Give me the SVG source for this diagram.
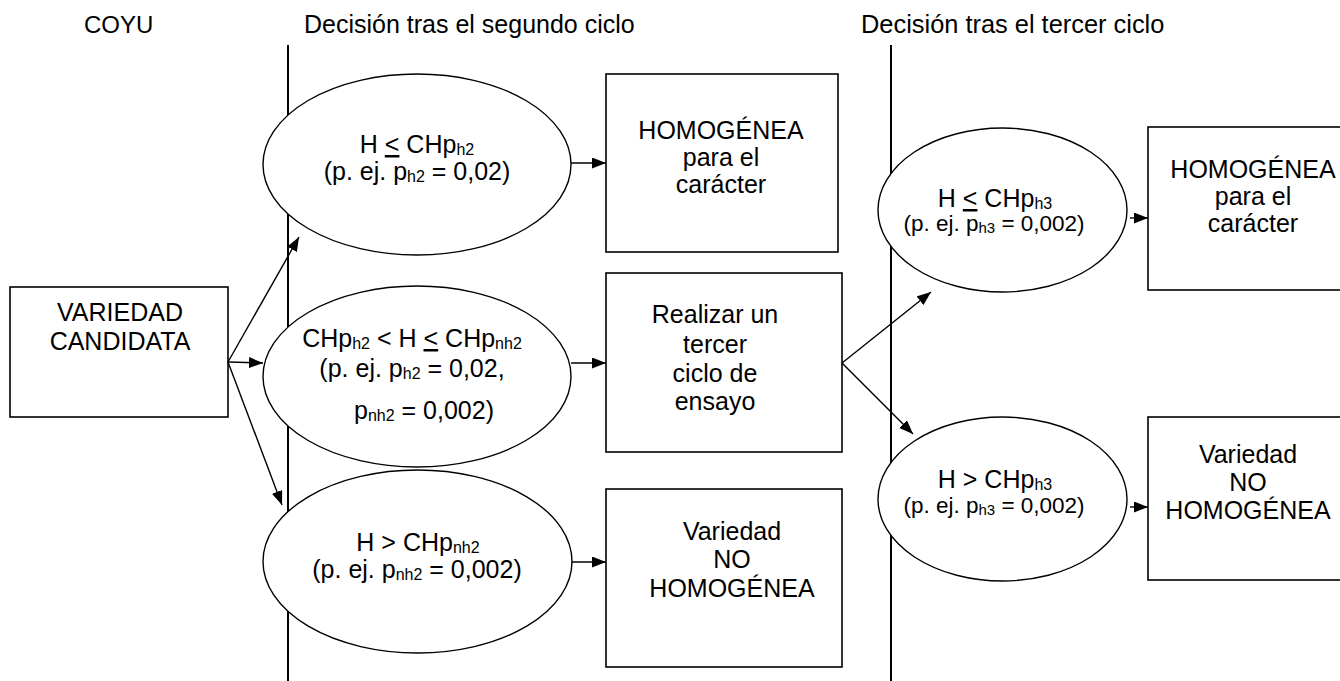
<svg xmlns="http://www.w3.org/2000/svg" width="1340" height="681" viewBox="0 0 1340 681">
<style>
  text { font-family: "Liberation Sans", Arial, sans-serif; fill: #000; }
  .t { font-size: 25px; text-anchor: middle; }
  .s { font-size: 22.5px; text-anchor: middle; }
  .h { font-size: 25px; text-anchor: start; }
  .sub { font-size: 16px; }
  .subs { font-size: 15px; }
  .u { text-decoration: underline; }
  .box { fill: #fff; stroke: #000; stroke-width: 1.6; }
  .ell { fill: #fff; stroke: #000; stroke-width: 1.4; }
  .div { stroke: #000; stroke-width: 2; fill: none; }
  .con { stroke: #000; stroke-width: 1.4; fill: none; marker-end: url(#ah); }
</style>
<defs>
  <marker id="ah" markerUnits="userSpaceOnUse" markerWidth="15" markerHeight="12" refX="14" refY="5.5" orient="auto">
    <path d="M0,0 L14,5.5 L0,11 z" fill="#000"/>
  </marker>
</defs>
<rect width="1340" height="681" fill="#fff"/>

<g id="headers">
  <text class="h" x="84" y="33" style="font-size:24px">COYU</text>
  <text class="h" x="304" y="33">Decisión tras el segundo ciclo</text>
  <text class="h" x="861" y="33" style="font-size:25.4px">Decisión tras el tercer ciclo</text>
</g>

<g id="dividers">
  <line class="div" x1="288" y1="45" x2="288" y2="681"/>
  <line class="div" x1="891" y1="45" x2="891" y2="681"/>
</g>

<g id="candidata">
  <rect class="box" x="10" y="287" width="218" height="130"/>
  <text class="t" x="120" y="321">VARIEDAD</text>
  <text class="t" x="120" y="350">CANDIDATA</text>
</g>

<g id="e-h2">
  <ellipse class="ell" cx="417" cy="164.5" rx="154" ry="90.5"/>
  <text class="t" x="417" y="153">H <tspan class="u">&lt;</tspan> CHp<tspan class="sub" dy="2">h2</tspan></text>
  <text class="t" x="417" y="180">(p. ej. p<tspan class="sub" dy="2">h2</tspan><tspan dy="-2"> = 0,02)</tspan></text>
</g>

<g id="e-mid2">
  <ellipse class="ell" cx="417" cy="376.5" rx="154" ry="90.5"/>
  <text class="t" x="412" y="347">CHp<tspan class="sub" dy="2">h2</tspan><tspan dy="-2"> &lt; H </tspan><tspan class="u">&lt;</tspan> CHp<tspan class="sub" dy="2">nh2</tspan></text>
  <text class="t" x="412" y="377">(p. ej. p<tspan class="sub" dy="2">h2</tspan><tspan dy="-2"> = 0,02,</tspan></text>
  <text class="t" x="424" y="419">p<tspan class="sub" dy="2">nh2</tspan><tspan dy="-2"> = 0,002)</tspan></text>
</g>

<g id="e-nh2">
  <ellipse class="ell" cx="417.5" cy="561.5" rx="154.5" ry="91.5"/>
  <text class="t" x="418" y="551">H &gt; CHp<tspan class="sub" dy="2">nh2</tspan></text>
  <text class="t" x="417" y="578">(p. ej. p<tspan class="sub" dy="2">nh2</tspan><tspan dy="-2"> = 0,002)</tspan></text>
</g>

<g id="b-hom2">
  <rect class="box" x="606" y="74" width="232" height="178"/>
  <text class="t" x="721" y="139">HOMOGÉNEA</text>
  <text class="t" x="721" y="166">para el</text>
  <text class="t" x="721" y="193">carácter</text>
</g>

<g id="b-tercer">
  <rect class="box" x="606" y="273" width="236" height="179"/>
  <text class="t" x="715" y="323">Realizar un</text>
  <text class="t" x="715" y="353">tercer</text>
  <text class="t" x="715" y="382">ciclo de</text>
  <text class="t" x="715" y="410">ensayo</text>
</g>

<g id="b-nohom2">
  <rect class="box" x="606" y="489" width="236" height="178"/>
  <text class="t" x="732" y="540">Variedad</text>
  <text class="t" x="732" y="568">NO</text>
  <text class="t" x="732" y="597">HOMOGÉNEA</text>
</g>

<g id="e-h3">
  <ellipse class="ell" cx="1002.5" cy="210" rx="124.5" ry="82"/>
  <text class="t" x="995" y="207">H <tspan class="u">&lt;</tspan> CHp<tspan class="sub" dy="2">h3</tspan></text>
  <text class="s" x="994" y="231">(p. ej. p<tspan class="subs" dy="2">h3</tspan><tspan dy="-2"> = 0,002)</tspan></text>
</g>

<g id="e-nh3">
  <ellipse class="ell" cx="1002.5" cy="499" rx="124.5" ry="82"/>
  <text class="t" x="995" y="488">H &gt; CHp<tspan class="sub" dy="2">h3</tspan></text>
  <text class="s" x="994" y="513">(p. ej. p<tspan class="subs" dy="2">h3</tspan><tspan dy="-2"> = 0,002)</tspan></text>
</g>

<g id="b-hom3">
  <rect class="box" x="1148" y="127" width="200" height="163"/>
  <text class="t" x="1253" y="178">HOMOGÉNEA</text>
  <text class="t" x="1253" y="205">para el</text>
  <text class="t" x="1253" y="232">carácter</text>
</g>

<g id="b-nohom3">
  <rect class="box" x="1148" y="417" width="200" height="163"/>
  <text class="t" x="1248" y="463">Variedad</text>
  <text class="t" x="1248" y="491">NO</text>
  <text class="t" x="1248" y="519">HOMOGÉNEA</text>
</g>

<g id="connectors">
  <line class="con" x1="228" y1="362" x2="299" y2="237"/>
  <line class="con" x1="228" y1="362" x2="263" y2="363"/>
  <line class="con" x1="228" y1="362" x2="282" y2="505"/>
  <line class="con" x1="571" y1="163" x2="606" y2="163"/>
  <line class="con" x1="571" y1="363" x2="606" y2="363"/>
  <line class="con" x1="572" y1="562" x2="606" y2="562"/>
  <line class="con" x1="842" y1="363" x2="931" y2="292"/>
  <line class="con" x1="842" y1="363" x2="913" y2="434"/>
  <line class="con" x1="1130" y1="218" x2="1148" y2="218"/>
  <line class="con" x1="1130" y1="507" x2="1148" y2="507"/>
</g>
</svg>
